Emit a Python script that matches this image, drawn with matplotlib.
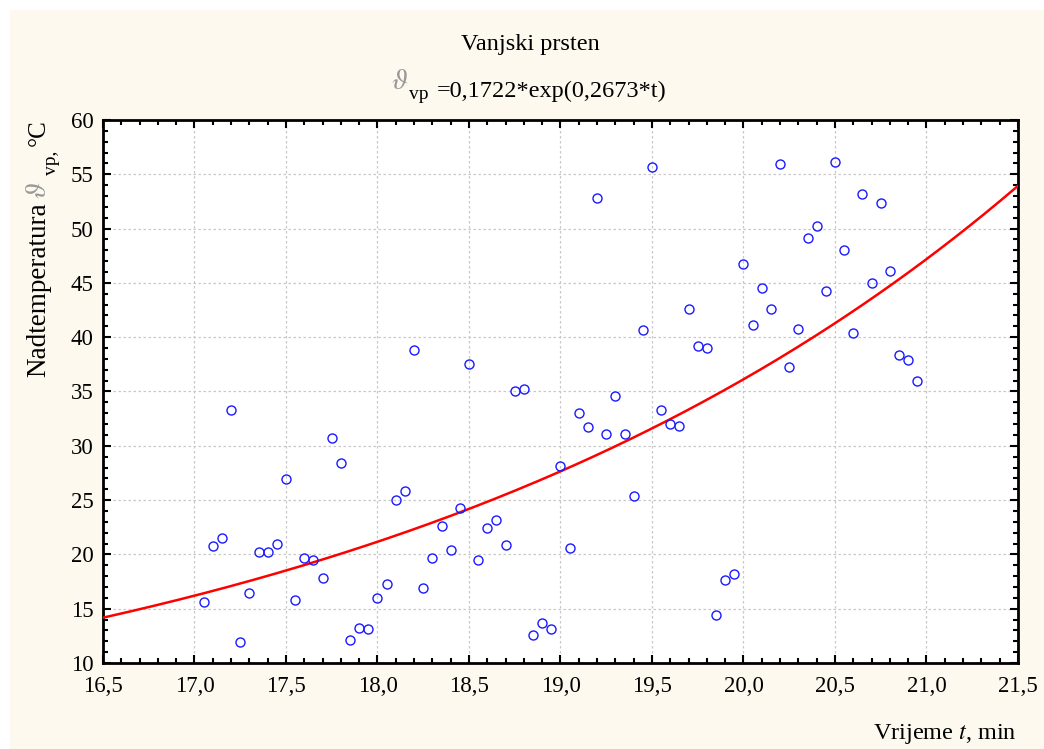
import numpy as np
import matplotlib
matplotlib.use('Agg')
import matplotlib.pyplot as plt
from matplotlib.ticker import MultipleLocator, FuncFormatter

plt.rcParams['font.family'] = ['Liberation Serif', 'DejaVu Serif']
plt.rcParams['mathtext.fontset'] = 'stix'

# measured points: time t (min) and over-temperature (°C)
t = [17.05, 17.10, 17.15, 17.20, 17.25, 17.30, 17.35, 17.40, 17.45, 17.50,
     17.55, 17.60, 17.65, 17.70, 17.75, 17.80, 17.85, 17.90, 17.95, 18.00,
     18.05, 18.10, 18.15, 18.20, 18.25, 18.30, 18.35, 18.40, 18.45, 18.50,
     18.55, 18.60, 18.65, 18.70, 18.75, 18.80, 18.85, 18.90, 18.95, 19.00,
     19.05, 19.10, 19.15, 19.20, 19.25, 19.30, 19.35, 19.40, 19.45, 19.50,
     19.55, 19.60, 19.65, 19.70, 19.75, 19.80, 19.85, 19.90, 19.95, 20.00,
     20.05, 20.10, 20.15, 20.20, 20.25, 20.30, 20.35, 20.40, 20.45, 20.50,
     20.55, 20.60, 20.65, 20.70, 20.75, 20.80, 20.85, 20.90, 20.95]
temp = [15.6, 20.8, 21.5, 33.3, 11.9, 16.4, 20.2, 20.2, 21.0, 26.9,
        15.8, 19.7, 19.5, 17.8, 30.75, 28.4, 12.1, 13.2, 13.1, 16.0,
        17.3, 25.0, 25.8, 38.8, 16.9, 19.7, 22.6, 20.4, 24.3, 37.5,
        19.5, 22.4, 23.15, 20.9, 35.0, 35.2, 12.6, 13.7, 13.1, 28.15,
        20.6, 33.0, 31.7, 52.8, 31.1, 34.6, 31.1, 25.4, 40.7, 55.7,
        33.3, 32.0, 31.85, 42.6, 39.2, 39.0, 14.4, 17.6, 18.15, 46.7,
        41.15, 44.5, 42.6, 55.95, 37.3, 40.8, 49.1, 50.2, 44.3, 56.1,
        48.0, 40.4, 53.15, 45.0, 52.4, 46.1, 38.4, 37.9, 36.0]

# fitted model
a, b = 0.1722, 0.2673

W, H = 1044, 749
fig = plt.figure(figsize=(W / 100, H / 100), dpi=100, facecolor='white')
# cream panel behind everything
fig.patches.append(plt.Rectangle((10 / W, 0.0), 1.0, 1 - 10 / H, transform=fig.transFigure,
                                 facecolor='#fdf9ee', edgecolor='none', zorder=-10))
ax = fig.add_axes([103 / W, 1 - 663 / H, 915 / W, 543 / H])
ax.set_facecolor('white')

tt = np.linspace(16.5, 21.5, 300)
ax.plot(tt, a * np.exp(b * tt), color='#ff0000', lw=1.8, zorder=3)
ax.plot(t, temp, 'o', ms=6.5, mfc='none', mec='#1a1aff', mew=1.0, zorder=4)

ax.set_xlim(16.5, 21.5)
ax.set_ylim(10, 60)
ax.xaxis.set_major_locator(MultipleLocator(0.5))
ax.xaxis.set_minor_locator(MultipleLocator(0.1))
ax.yaxis.set_major_locator(MultipleLocator(5))
ax.yaxis.set_minor_locator(MultipleLocator(1))
ax.xaxis.set_major_formatter(FuncFormatter(lambda v, p: f'{v:.1f}'.replace('.', ',')))
ax.yaxis.set_major_formatter(FuncFormatter(lambda v, p: f'{v:.0f}'))
ax.tick_params(which='both', direction='in', top=True, right=True, labelsize=16.5,
               width=1.5, color='black')
ax.tick_params(which='major', length=6)
ax.tick_params(axis='x', which='major', pad=9)
ax.tick_params(axis='y', which='major', pad=7)
ax.tick_params(which='minor', length=3.5)
ax.grid(True, which='major', color='#c8c8c8', linestyle=(0, (2, 2)), lw=0.9)
for s in ax.spines.values():
    s.set_linewidth(2.0)

theta_col = '#999999'

# title lines
fig.text(530 / W, 1 - 50 / H, 'Vanjski prsten', ha='center', va='baseline', fontsize=17.5)
fig.text(408 / W, 1 - 89 / H, r'$\vartheta$', ha='right', va='baseline',
         fontsize=21, color=theta_col)
fig.text(409 / W, 1 - 99 / H, 'vp', ha='left', va='baseline', fontsize=14)
fig.text(437 / W, 1 - 97 / H, '=0,1722*exp(0,2673*t)', ha='left', va='baseline',
         fontsize=17.5)

# y label, written bottom to top in pieces
def ytext(x, y, s, size, color='black'):
    fig.text(x / W, 1 - y / H, s, rotation=90, rotation_mode='anchor',
             ha='left', va='baseline', fontsize=size, color=color)

ytext(45, 377, 'Nadtemperatura', 19.5)
ytext(46, 199, r'$\vartheta$', 21, theta_col)
ytext(56, 175, 'vp,', 14)
ytext(45, 146, '°C', 18)

fig.text(1017 / W, 1 - 739 / H, r'Vrijeme $t$, min', ha='right', va='baseline',
         fontsize=17.5)

fig.savefig('out.png', dpi=100, facecolor=fig.get_facecolor())
